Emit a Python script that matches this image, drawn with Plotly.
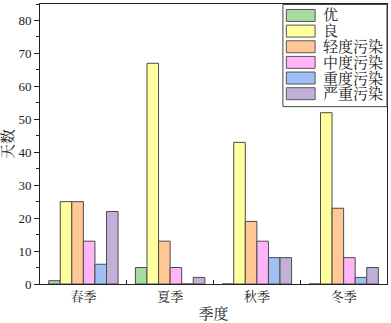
import plotly.graph_objects as go

seasons = ["春季", "夏季", "秋季", "冬季"]
series_names = ["优", "良", "轻度污染", "中度污染", "重度污染", "严重污染"]
v_you = [1, 5, 0, 0]
v_liang = [25, 67, 43, 52]
v_qingdu = [25, 13, 19, 23]
v_zhongdu = [13, 5, 13, 8]
v_zhongdu2 = [6, 0, 8, 2]
v_yanzhong = [22, 2, 8, 5]
values = [v_you, v_liang, v_qingdu, v_zhongdu, v_zhongdu2, v_yanzhong]
colors = ["#a6dca0", "#ffff9e", "#ffc896", "#ffb4f8", "#9ec0f4", "#c2b0d8"]

FONT = "Liberation Serif, Times New Roman, Noto Serif CJK SC, Noto Sans CJK SC, serif"

W, H = 391, 323
ML, MR, MT, MB = 38, 3, 3, 39
PW, PH = W - ML - MR, H - MT - MB


def px_x(p):
    return (p - ML) / PW


def px_y(p):
    return (H - MB - p) / PH


fig = go.Figure()
for name, vals, col in zip(series_names, values, colors):
    fig.add_trace(go.Bar(
        x=seasons, y=vals, name=name, showlegend=False,
        marker=dict(color=col, line=dict(color="#4a4a4a", width=1)),
    ))

# custom legend box (drawn to match the reference's large swatches)
shapes = [dict(type="rect", xref="paper", yref="paper",
               x0=px_x(283), x1=1.0, y0=px_y(106), y1=px_y(3.5),
               line=dict(color="#444444", width=1), fillcolor="white", layer="above")]
annotations = []
for i, (name, col) in enumerate(zip(series_names, colors)):
    cy = 14.5 + 15.7 * i
    shapes.append(dict(type="rect", xref="paper", yref="paper",
                       x0=px_x(286.5), x1=px_x(315.5),
                       y0=px_y(cy + 6), y1=px_y(cy - 6),
                       line=dict(color="#555555", width=1), fillcolor=col, layer="above"))
    annotations.append(dict(xref="paper", yref="paper", x=px_x(321), y=px_y(cy),
                            xanchor="left", yanchor="middle", showarrow=False,
                            text=name, font=dict(size=15, family=FONT, color="#222222")))

fig.update_layout(
    width=W, height=H,
    margin=dict(l=ML, r=MR, t=MT, b=MB),
    plot_bgcolor="white", paper_bgcolor="white",
    barmode="group", bargap=0.2, bargroupgap=0,
    font=dict(family=FONT, size=13, color="#222222"),
    shapes=shapes, annotations=annotations,
    xaxis=dict(
        showline=True, linecolor="#222222", linewidth=1, mirror=True,
        ticks="inside", tickson="boundaries", ticklen=4, tickcolor="#222222",
        title=dict(text="季度", font=dict(size=15), standoff=5),
        tickfont=dict(size=13),
    ),
    yaxis=dict(
        range=[0, 85], dtick=10, tick0=0,
        showline=True, linecolor="#222222", linewidth=1, mirror=True,
        ticks="outside", ticklen=5, tickcolor="#222222",
        minor=dict(dtick=5, ticks="outside", ticklen=3, tickcolor="#222222"),
        showgrid=False, zeroline=False,
        title=dict(text="天数", font=dict(size=15), standoff=5),
        tickfont=dict(size=13),
    ),
)

fig.write_html("out.html", config={"displayModeBar": False},
               post_script="document.body.style.margin='0';")
